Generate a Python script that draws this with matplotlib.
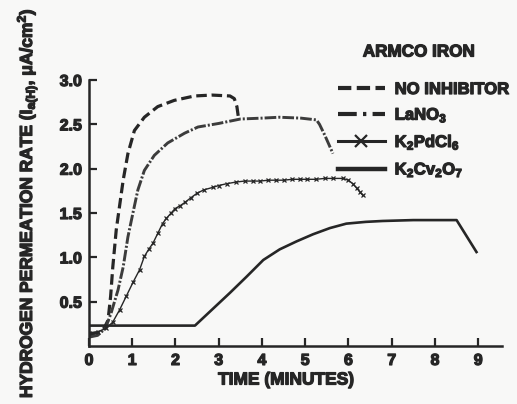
import matplotlib
matplotlib.use('Agg')
import matplotlib.pyplot as plt
import matplotlib.patheffects as pe
from matplotlib.lines import Line2D

# time in minutes, permeation rate in uA/cm^2
t_none = [0, 0.2, 0.35, 0.44, 0.5, 0.55, 0.63, 0.69, 0.79, 0.9, 1.05, 1.28, 1.59, 1.97,
          2.44, 2.84, 3.26, 3.36, 3.42, 3.46]
v_none = [0.13, 0.15, 0.2, 0.29, 0.56, 0.89, 1.31, 1.52, 1.87, 2.17, 2.43, 2.58, 2.70, 2.77,
          2.82, 2.83, 2.82, 2.79, 2.70, 2.56]

t_la = [0, 0.2, 0.38, 0.51, 0.67, 0.79, 0.9, 1.02, 1.13, 1.28, 1.51, 1.82, 2.21, 2.52,
        3.0, 3.5, 4.0, 4.4, 4.9, 5.26, 5.33, 5.45, 5.55, 5.64]
v_la = [0.1, 0.12, 0.2, 0.37, 0.63, 0.89, 1.23, 1.51, 1.76, 1.98, 2.15, 2.29, 2.40, 2.47,
        2.51, 2.56, 2.57, 2.58, 2.57, 2.55, 2.50, 2.38, 2.27, 2.17]

t_pd = [0, 0.2, 0.4, 0.55, 0.71, 0.86, 1.02, 1.17, 1.28, 1.38, 1.48, 1.59, 1.7, 1.79,
        1.9, 1.99, 2.1, 2.22, 2.35, 2.49, 2.65, 2.87, 3.0, 3.18, 3.41, 3.6, 3.8, 3.95,
        4.15, 4.33, 4.5, 4.7, 4.87, 5.05, 5.25, 5.45, 5.65, 5.87, 6.0, 6.1, 6.19, 6.26, 6.33]
v_pd = [0.15, 0.16, 0.2, 0.27, 0.41, 0.56, 0.72, 0.86, 1.01, 1.09, 1.16, 1.27, 1.38, 1.44,
        1.5, 1.55, 1.58, 1.62, 1.67, 1.72, 1.76, 1.79, 1.81, 1.83, 1.85, 1.86, 1.86, 1.86,
        1.87, 1.87, 1.87, 1.88, 1.88, 1.88, 1.88, 1.89, 1.89, 1.89, 1.87, 1.83, 1.78, 1.74, 1.70]

t_cr = [0, 2.45, 3.26, 3.64, 4.03, 4.41, 4.8, 5.18, 5.57, 5.95, 6.4, 6.79, 7.5, 8.0,
        8.5, 8.96]
v_cr = [0.23, 0.23, 0.60, 0.78, 0.97, 1.09, 1.18, 1.26, 1.33, 1.38, 1.40, 1.41, 1.42,
        1.42, 1.42, 1.06]

labels = ['NO INHIBITOR', 'LaNO$_3$', 'K$_2$PdCl$_6$', 'K$_2$Cv$_2$O$_7$']
x_ticks = list(range(10))
y_ticks = [0.5, 1.0, 1.5, 2.0, 2.5, 3.0]

plt.rcParams['font.family'] = ['Liberation Sans', 'DejaVu Sans']
plt.rcParams['font.weight'] = 'bold'
plt.rcParams['mathtext.fontset'] = 'custom'
plt.rcParams['mathtext.rm'] = 'Liberation Sans:bold'
plt.rcParams['mathtext.it'] = 'Liberation Sans:bold'
plt.rcParams['mathtext.bf'] = 'Liberation Sans:bold'
plt.rcParams['mathtext.default'] = 'bf'

ink = '#262626'
bg = '#f8f8f7'
heavy = [pe.withStroke(linewidth=0.9, foreground=ink)]

fig = plt.figure(figsize=(5.17, 4.04), dpi=100, facecolor=bg)
ax = fig.add_axes([89 / 517, 1 - 346 / 404, 413 / 517, 266 / 404])
ax.set_facecolor(bg)

ax.plot(t_none, v_none, color=ink, lw=2.3, dashes=(3.3, 1.5))
ax.plot(t_la, v_la, color='#3c3c3c', lw=2.1, dashes=(4, 0.7, 0.7, 0.7))
ax.plot(t_pd, v_pd, color=ink, lw=1.0, marker='x', ms=3.5, mew=0.9)
ax.plot(t_cr, v_cr, color=ink, lw=1.9)

ax.set_xlim(0, 9.55)
ax.set_ylim(0, 3.0)
ax.set_xticks(x_ticks)
ax.set_yticks(y_ticks)
ax.set_xticklabels([str(x) for x in x_ticks], fontweight='bold')
ax.set_yticklabels([f'{y:.1f}' for y in y_ticks], fontweight='bold')
ax.tick_params(direction='in', length=5.5, width=1.6, colors=ink, labelsize=11.5, pad=5)
for lab in ax.get_xticklabels() + ax.get_yticklabels():
    lab.set_path_effects(heavy)
for s in ['top', 'right']:
    ax.spines[s].set_visible(False)
for s in ['left', 'bottom']:
    ax.spines[s].set_linewidth(1.8)
    ax.spines[s].set_color(ink)

handles = [
    Line2D([], [], color=ink, lw=3, dashes=(3.2, 1.3)),
    Line2D([], [], color=ink, lw=3, dashes=(4.5, 1.5, 0.8, 1.5)),
    Line2D([], [], color=ink, lw=2.2, marker='x', ms=9, mew=1.6),
    Line2D([], [], color=ink, lw=3.2),
]
leg = ax.legend(handles, labels, loc='upper left', frameon=False,
                bbox_to_anchor=(338 / 517, 1 - 82 / 404), bbox_transform=fig.transFigure,
                borderpad=0, borderaxespad=0, handlelength=2.8, handletextpad=0.6,
                labelspacing=0.52, prop={'size': 12, 'weight': 'bold'})
for txt in leg.get_texts():
    txt.set_color(ink)
    txt.set_path_effects(heavy)

fig.text(419 / 517, 1 - 52 / 404, 'ARMCO IRON', ha='center', va='center',
         fontsize=12.3, fontweight='bold', color=ink, path_effects=heavy)
fig.text(286 / 517, 1 - 380 / 404, 'TIME (MINUTES)', ha='center', va='center',
         fontsize=12.5, fontweight='bold', color=ink, path_effects=heavy)
fig.text(27 / 517, 201 / 404, r'HYDROGEN PERMEATION RATE (I$_{a(H)}$, $\mu$A/cm$^2$)',
         rotation=90, ha='center', va='center', fontsize=12.5, fontweight='bold',
         color=ink, path_effects=heavy)

fig.savefig('out.png', dpi=100, facecolor=bg)
